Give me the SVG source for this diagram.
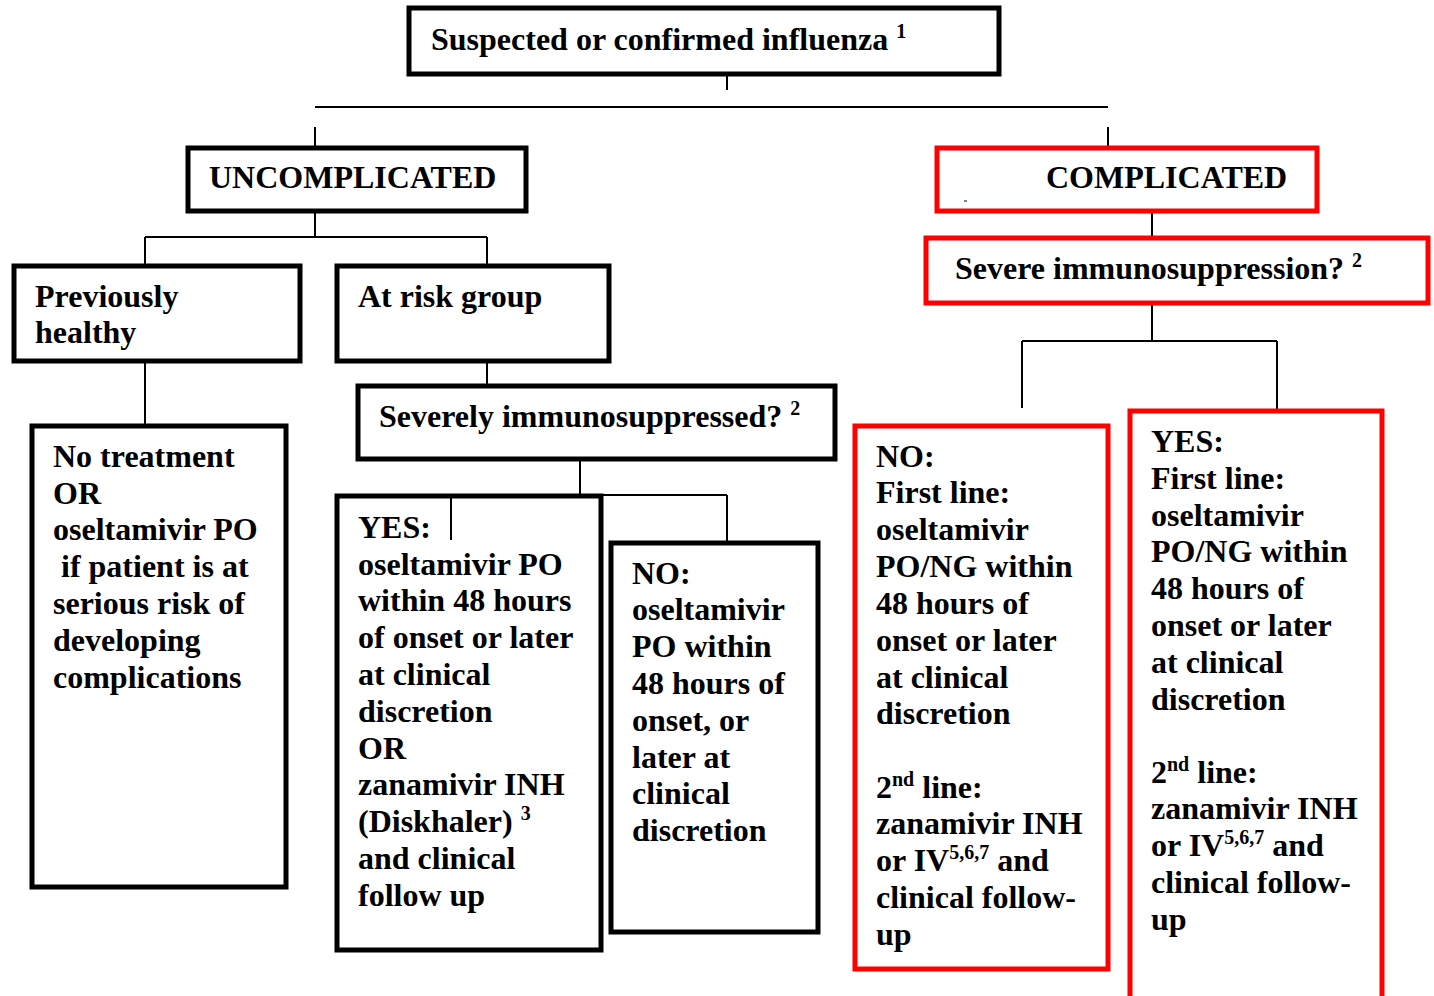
<svg xmlns="http://www.w3.org/2000/svg" width="1434" height="996" viewBox="0 0 1434 996">
<style>
.box{fill:#fff;stroke:#000;stroke-width:5}
.red{fill:#fff;stroke:#ff0000;stroke-width:5}
.t{font-family:"Liberation Serif","Times New Roman",serif;font-weight:bold;font-size:32px;fill:#000}
.sup{font-size:20px}
#connectors line{stroke:#000;stroke-width:2}
</style>
<rect width="1434" height="996" fill="#fff"/>
<g id="connectors">
<line x1="727" y1="75" x2="727" y2="90"/>
<line x1="315" y1="107" x2="1108" y2="107"/>
<line x1="315" y1="127" x2="315" y2="146"/>
<line x1="1108" y1="127" x2="1108" y2="146"/>
<line x1="315" y1="212" x2="315" y2="237"/>
<line x1="145" y1="237" x2="487" y2="237"/>
<line x1="145" y1="237" x2="145" y2="264"/>
<line x1="487" y1="237" x2="487" y2="264"/>
<line x1="145" y1="362" x2="145" y2="424"/>
<line x1="487" y1="362" x2="487" y2="384"/>
<line x1="580" y1="460" x2="580" y2="494"/>
<line x1="602" y1="495" x2="727" y2="495"/>
<line x1="727" y1="495" x2="727" y2="541"/>
<line x1="1152" y1="212" x2="1152" y2="236"/>
<line x1="1152" y1="304" x2="1152" y2="341"/>
<line x1="1022" y1="341" x2="1277" y2="341"/>
<line x1="1022" y1="341" x2="1022" y2="408"/>
<line x1="1277" y1="341" x2="1277" y2="409"/>
</g>
<g id="n-top">
<rect class="box" x="409" y="8" width="590" height="66"/>
<text class="t" x="431" y="50">Suspected or confirmed influenza <tspan class="sup" dy="-12">1</tspan></text>
</g>
<g id="n-uncomplicated">
<rect class="box" x="188" y="148" width="338" height="63"/>
<text class="t" x="209" y="188">UNCOMPLICATED</text>
</g>
<g id="n-complicated">
<rect class="red" x="937" y="148" width="380" height="63"/>
<text class="t" x="1046" y="188">COMPLICATED</text>
<line x1="964" y1="201" x2="967" y2="201" stroke="#000" stroke-width="1"/>
</g>
<g id="n-severe">
<rect class="red" x="926" y="238" width="502" height="65"/>
<text class="t" x="955" y="279">Severe immunosuppression? <tspan class="sup" dy="-12">2</tspan></text>
</g>
<g id="n-prev">
<rect class="box" x="14" y="266" width="286" height="95"/>
<text class="t"><tspan x="35" y="307">Previously</tspan><tspan x="35" y="343">healthy</tspan></text>
</g>
<g id="n-atrisk">
<rect class="box" x="337" y="266" width="272" height="95"/>
<text class="t" x="358" y="307">At risk group</text>
</g>
<g id="n-severely">
<rect class="box" x="358" y="386" width="477" height="73"/>
<text class="t" x="379" y="427">Severely immunosuppressed? <tspan class="sup" dy="-12">2</tspan></text>
</g>
<g id="n-notreat">
<rect class="box" x="32" y="426" width="254" height="461"/>
<text class="t">
<tspan x="53" y="467">No treatment</tspan>
<tspan x="53" y="504">OR</tspan>
<tspan x="53" y="540">oseltamivir PO</tspan>
<tspan x="61" y="577">if patient is at</tspan>
<tspan x="53" y="614">serious risk of</tspan>
<tspan x="53" y="651">developing</tspan>
<tspan x="53" y="688">complications</tspan>
</text>
</g>
<g id="n-yes-left">
<rect class="box" x="337" y="496" width="264" height="454"/>
<line x1="451" y1="496" x2="451" y2="540" stroke="#000" stroke-width="2"/>
<text class="t">
<tspan x="358" y="538">YES:</tspan>
<tspan x="358" y="575">oseltamivir PO</tspan>
<tspan x="358" y="611">within 48 hours</tspan>
<tspan x="358" y="648">of onset or later</tspan>
<tspan x="358" y="685">at clinical</tspan>
<tspan x="358" y="722">discretion</tspan>
<tspan x="358" y="759">OR</tspan>
<tspan x="358" y="795">zanamivir INH</tspan>
<tspan x="358" y="832">(Diskhaler) <tspan class="sup" dy="-12">3</tspan></tspan>
<tspan x="358" y="869">and clinical</tspan>
<tspan x="358" y="906">follow up</tspan>
</text>
</g>
<g id="n-no-left">
<rect class="box" x="611" y="543" width="207" height="389"/>
<text class="t">
<tspan x="632" y="584">NO:</tspan>
<tspan x="632" y="620">oseltamivir</tspan>
<tspan x="632" y="657">PO within</tspan>
<tspan x="632" y="694">48 hours of</tspan>
<tspan x="632" y="731">onset, or</tspan>
<tspan x="632" y="768">later at</tspan>
<tspan x="632" y="804">clinical</tspan>
<tspan x="632" y="841">discretion</tspan>
</text>
</g>
<g id="n-no-right">
<rect class="red" x="855" y="426" width="253" height="543"/>
<text class="t">
<tspan x="876" y="467">NO:</tspan>
<tspan x="876" y="503">First line:</tspan>
<tspan x="876" y="540">oseltamivir</tspan>
<tspan x="876" y="577">PO/NG within</tspan>
<tspan x="876" y="614">48 hours of</tspan>
<tspan x="876" y="651">onset or later</tspan>
<tspan x="876" y="688">at clinical</tspan>
<tspan x="876" y="724">discretion</tspan>
<tspan x="876" y="798">2<tspan class="sup" dy="-12">nd</tspan><tspan dy="12"> line:</tspan></tspan>
<tspan x="876" y="834">zanamivir INH</tspan>
<tspan x="876" y="871">or IV<tspan class="sup" dy="-12">5,6,7</tspan><tspan dy="12"> and</tspan></tspan>
<tspan x="876" y="908">clinical follow-</tspan>
<tspan x="876" y="945">up</tspan>
</text>
</g>
<g id="n-yes-right">
<rect class="red" x="1130" y="411" width="252" height="600"/>
<text class="t">
<tspan x="1151" y="452">YES:</tspan>
<tspan x="1151" y="489">First line:</tspan>
<tspan x="1151" y="526">oseltamivir</tspan>
<tspan x="1151" y="562">PO/NG within</tspan>
<tspan x="1151" y="599">48 hours of</tspan>
<tspan x="1151" y="636">onset or later</tspan>
<tspan x="1151" y="673">at clinical</tspan>
<tspan x="1151" y="710">discretion</tspan>
<tspan x="1151" y="783">2<tspan class="sup" dy="-12">nd</tspan><tspan dy="12"> line:</tspan></tspan>
<tspan x="1151" y="819">zanamivir INH</tspan>
<tspan x="1151" y="856">or IV<tspan class="sup" dy="-12">5,6,7</tspan><tspan dy="12"> and</tspan></tspan>
<tspan x="1151" y="893">clinical follow-</tspan>
<tspan x="1151" y="930">up</tspan>
</text>
</g>
</svg>
